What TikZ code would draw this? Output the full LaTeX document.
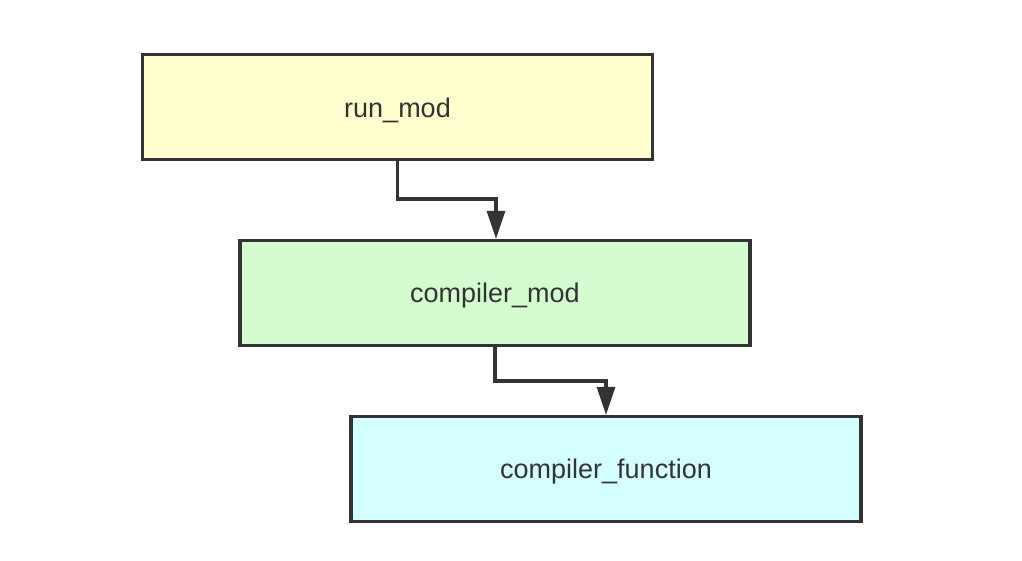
\documentclass[tikz,border=0pt]{standalone}
\usepackage{fontspec}
\setmainfont{Liberation Sans}
\usetikzlibrary{arrows.meta}
\definecolor{edge}{HTML}{333333}
\definecolor{fyellow}{HTML}{FFFFD0}
\definecolor{fgreen}{HTML}{D5FCD0}
\definecolor{fcyan}{HTML}{D5FFFF}
\begin{document}
\begin{tikzpicture}[x=1pt,y=-1pt,
  box/.style={draw=edge, line width=3.2pt, minimum width=510pt, minimum height=105pt, inner sep=0pt, text=edge},
  lbl/.style={text=edge, font=\fontsize{27}{32}\selectfont},
  conn/.style={draw=edge, line width=3.2pt, -{Triangle[length=28pt,width=18pt]}}]
\useasboundingbox (0,0) rectangle (1022,560);
\fill[white] (0,0) rectangle (1022,560);
\node[box, fill=fyellow] (a) at (397.5,107) {};
\node[box, fill=fgreen] (b) at (495,293) {};
\node[box, fill=fcyan] (c) at (606,469) {};
\node[lbl] (ta) at ([yshift=-3pt]a.center) {run\_mod};
\node[lbl] (tb) at ([yshift=-3pt]b.center) {compiler\_mod};
\node[lbl] (tc) at ([yshift=-3pt]c.center) {compiler\_function};
\draw[conn] (a.south) |- (496,199) -- (b.north -| 496,0);
\draw[conn] (b.south) |- (606,381) -- (c.north);
\end{tikzpicture}
\end{document}
